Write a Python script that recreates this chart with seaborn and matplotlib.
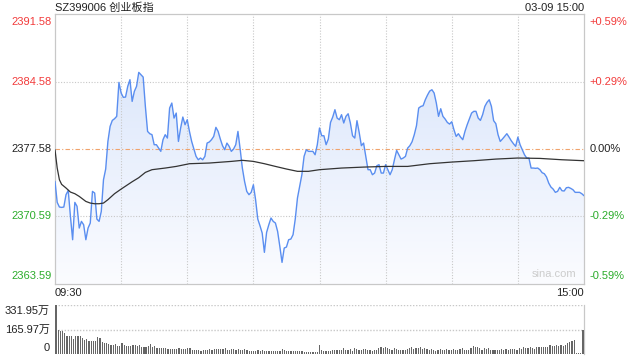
#%%
# ==========================================
# 1. IMPORTS AND DATA
# ==========================================
import numpy as np
import matplotlib
matplotlib.use("Agg")
import matplotlib.pyplot as plt
from matplotlib.patches import PathPatch
import matplotlib.transforms as mtransforms
import seaborn as sns

titulo = "SZ399006 创业板指"
data_hora = "03-09 15:00"
pre_close = 2377.58

# minute index 0..240 (09:30-11:30, 13:00-15:00)
minutos = list(range(241))

preco = [
    2374.23, 2372.05, 2371.57, 2371.53, 2371.57, 2372.85, 2373.29, 2370.60, 2368.18, 2372.05,
    2371.64, 2369.39, 2370.08, 2369.73, 2368.18, 2369.39, 2369.91, 2373.19, 2373.02, 2370.32,
    2370.08, 2371.12, 2374.40, 2375.51, 2378.37, 2379.93, 2380.55, 2380.72, 2380.97, 2384.49,
    2383.39, 2382.94, 2382.97, 2384.08, 2384.77, 2382.52, 2383.56, 2384.08, 2385.53, 2385.29,
    2385.04, 2382.00, 2379.41, 2379.17, 2379.07, 2378.03, 2378.03, 2377.68, 2377.34, 2378.55,
    2379.07, 2378.72, 2381.83, 2382.35, 2380.79, 2381.31, 2378.37, 2379.76, 2380.90, 2380.10,
    2380.62, 2379.41, 2378.37, 2377.58, 2376.82, 2376.47, 2376.65, 2376.47, 2376.82, 2378.20,
    2378.31, 2378.55, 2378.89, 2379.83, 2379.41, 2378.62, 2377.93, 2377.51, 2378.20, 2377.86,
    2377.34, 2377.58, 2378.03, 2379.41, 2377.58, 2375.61, 2374.23, 2373.19, 2372.85, 2373.09,
    2373.88, 2372.33, 2370.32, 2369.63, 2368.87, 2366.87, 2368.94, 2369.73, 2370.43, 2370.08,
    2369.91, 2369.04, 2367.49, 2365.83, 2367.32, 2367.42, 2368.18, 2368.25, 2368.70, 2370.32,
    2372.50, 2373.71, 2374.92, 2376.82, 2377.51, 2377.34, 2377.34, 2377.34, 2376.99, 2378.03,
    2379.76, 2378.96, 2378.96, 2378.03, 2378.62, 2380.34, 2380.90, 2381.66, 2380.79, 2380.62,
    2381.14, 2380.28, 2380.97, 2381.24, 2380.28, 2378.96, 2378.72, 2380.52, 2379.31, 2377.93,
    2378.20, 2376.82, 2375.44, 2375.44, 2374.92, 2375.09, 2375.85, 2375.96, 2375.09, 2375.09,
    2375.96, 2375.44, 2374.92, 2375.44, 2376.47, 2377.44, 2376.99, 2376.54, 2376.65, 2376.82,
    2377.68, 2377.93, 2378.34, 2379.07, 2380.00, 2381.83, 2382.00, 2382.07, 2382.69, 2383.18,
    2383.59, 2383.73, 2383.39, 2382.35, 2380.97, 2381.76, 2380.97, 2380.69, 2380.34, 2380.17,
    2380.41, 2379.58, 2378.89, 2379.17, 2378.82, 2378.55, 2379.41, 2380.10, 2380.69, 2381.31,
    2381.49, 2381.49, 2380.79, 2380.55, 2381.14, 2382.00, 2382.42, 2382.69, 2382.00, 2380.52,
    2380.21, 2379.07, 2378.37, 2378.62, 2378.89, 2379.17, 2378.82, 2378.44, 2378.13, 2377.86,
    2378.82, 2378.03, 2377.51, 2376.99, 2376.65, 2376.65, 2375.61, 2375.61, 2375.58, 2375.61,
    2375.44, 2375.13, 2375.02, 2374.68, 2374.05, 2373.64, 2373.43, 2373.09, 2373.19, 2373.61,
    2373.26, 2373.23, 2373.57, 2373.61, 2373.50, 2373.36, 2373.09, 2373.09, 2373.09, 2372.95,
    2372.74,
]

# average price line (read at a few minutes)
media_min = [0, 1, 2, 3, 5, 7, 9, 11, 14, 16, 18, 20, 22, 24, 27, 30, 35, 38, 41, 44, 50, 55,
             61, 70, 80, 85, 90, 95, 100, 105, 110, 115, 120, 130, 140, 150, 160, 165, 170,
             180, 190, 200, 210, 220, 230, 240]
media_preco = [2377.51, 2375.61, 2374.40, 2373.92, 2373.54, 2373.12, 2372.95, 2372.67, 2372.15,
               2371.98, 2371.91, 2371.91, 2371.98, 2372.33, 2372.95, 2373.43, 2374.19, 2374.61,
               2375.16, 2375.44, 2375.61, 2375.78, 2376.06, 2376.13, 2376.30, 2376.41, 2376.30,
               2376.06, 2375.78, 2375.51, 2375.27, 2375.27, 2375.44, 2375.61, 2375.71, 2375.78,
               2375.78, 2375.92, 2376.06, 2376.23, 2376.37, 2376.54, 2376.65, 2376.61, 2376.47,
               2376.37]

# volume (万)
volume = [
    332.0, 159.4, 157.2, 152.7, 141.4, 123.5, 123.5, 123.5, 103.3, 123.5,
    123.5, 123.5, 107.8, 92.0, 103.3, 89.8, 89.8, 85.3, 85.3, 116.7,
    110.0, 80.8, 76.3, 74.1, 69.6, 62.9, 58.4, 69.6, 56.1, 56.1,
    76.3, 62.9, 56.1, 56.1, 56.1, 62.9, 58.4, 51.6, 62.9, 49.4,
    44.9, 49.4, 56.1, 69.6, 44.9, 51.6, 38.2, 38.2, 42.7, 42.7,
    38.2, 35.9, 35.9, 35.9, 35.9, 35.9, 38.2, 33.7, 31.4, 31.4,
    38.2, 42.7, 29.2, 29.2, 29.2, 29.2, 22.5, 26.9, 29.2, 29.2,
    33.7, 29.2, 31.4, 35.9, 33.7, 31.4, 35.9, 42.7, 29.2, 29.2,
    31.4, 35.9, 29.2, 31.4, 29.2, 29.2, 33.7, 29.2, 22.5, 22.5,
    22.5, 22.5, 24.7, 22.5, 29.2, 22.5, 22.5, 18.0, 18.0, 18.0,
    18.0, 18.0, 22.5, 31.4, 24.7, 18.0, 18.0, 20.2, 18.0, 18.0,
    18.0, 18.0, 18.0, 15.7, 15.7, 15.7, 15.7, 15.7, 15.7, 15.7,
    62.9, 29.2, 22.5, 22.5, 22.5, 22.5, 29.2, 24.7, 26.9, 24.7,
    29.2, 40.4, 29.2, 29.2, 33.7, 22.5, 40.4, 33.7, 29.2, 29.2,
    35.9, 35.9, 29.2, 24.7, 22.5, 29.2, 29.2, 40.4, 47.1, 42.7,
    49.4, 40.4, 35.9, 29.2, 40.4, 33.7, 29.2, 29.2, 29.2, 29.2,
    33.7, 40.4, 47.1, 33.7, 40.4, 40.4, 47.1, 35.9, 40.4, 35.9,
    29.2, 33.7, 29.2, 22.5, 29.2, 33.7, 24.7, 29.2, 35.9, 24.7,
    29.2, 35.9, 29.2, 29.2, 35.9, 40.4, 29.2, 29.2, 29.2, 40.4,
    51.6, 44.9, 44.9, 38.2, 29.2, 40.4, 35.9, 40.4, 24.7, 29.2,
    29.2, 29.2, 29.2, 35.9, 29.2, 33.7, 29.2, 35.9, 35.9, 35.9,
    29.2, 40.4, 33.7, 44.9, 40.4, 40.4, 44.9, 40.4, 33.7, 44.9,
    47.1, 49.4, 49.4, 49.4, 47.1, 62.9, 56.1, 56.1, 62.9, 51.6,
    62.9, 56.1, 62.9, 74.1, 80.8, 85.3, 96.5, 4.5, 4.5, 4.5,
    159.4,
]

eixo_preco = [2391.58, 2384.58, 2377.58, 2370.59, 2363.59]
eixo_pct = ["+0.59%", "+0.29%", "0.00%", "-0.29%", "-0.59%"]
eixo_vol = [331.95, 165.97, 0]
eixo_vol_txt = ["331.95万", "165.97万", "0"]
rotulos_tempo = ["09:30", "15:00"]

#%%
# ==========================================
# 2. FIGURE
# ==========================================
sns.set_theme(style="white")
plt.rcParams['font.family'] = ['Liberation Sans', 'Noto Sans CJK SC', 'DejaVu Sans']

VERMELHO = "#f23b3b"
VERDE = "#2bac2b"
ESCURO = "#222222"
GRADE = "#c8c8c8"
AZUL = "#5a8ef0"

fig = plt.figure(figsize=(6.4, 3.6), dpi=100)
ax = fig.add_axes([55 / 640, 1 - 284 / 360, 529 / 640, 270 / 360])
axv = fig.add_axes([55 / 640, 1 - 354 / 360, 529 / 640, 49 / 360])

# ---- price panel ----
ymin, ymax = eixo_preco[-1], eixo_preco[0]
ax.set_xlim(0, 240)
ax.set_ylim(ymin, ymax)

# gradient fill under the price line
preenche = ax.fill_between(minutos, preco, ymin, color="none", lw=0)
grad = np.linspace(0, 1, 256).reshape(-1, 1)
cmap = matplotlib.colors.LinearSegmentedColormap.from_list("g", ["#d5e2fa", "#fbfcff"])
img = ax.imshow(grad, cmap=cmap, aspect="auto", extent=[0, 240, ymin, ymax],
                origin="upper", zorder=1)
clip = PathPatch(preenche.get_paths()[0], transform=ax.transData, fc="none", ec="none")
ax.add_patch(clip)
img.set_clip_path(clip)

# grid lines
for m in [30, 60, 90, 120, 150, 180, 210]:
    ax.axvline(m, color=GRADE, lw=0.8, ls=(0, (1, 1.5)), zorder=2)
for v in [eixo_preco[1], eixo_preco[3]]:
    ax.axhline(v, color=GRADE, lw=0.8, ls=(0, (1, 1.5)), zorder=2)
ax.axhline(pre_close, color="#f0a36c", lw=0.8, ls=(0, (4, 2, 1, 2)), zorder=2)

sns.lineplot(x=minutos, y=preco, ax=ax, color=AZUL, linewidth=1.0, zorder=4)
sns.lineplot(x=media_min, y=media_preco, ax=ax, color="#333333", linewidth=0.9, zorder=5)

ax.set_xticks([])
ax.set_yticks([])
ax.set_xlabel("")
ax.set_ylabel("")
for s in ax.spines.values():
    s.set_color(GRADE)
    s.set_linewidth(0.9)

cores = [VERMELHO, VERMELHO, ESCURO, VERDE, VERDE]
alinh = ["top", "center", "center", "center", "bottom"]
desl = [-2, 0, 0, 0, 2]
trans_esq = mtransforms.blended_transform_factory(ax.transAxes, ax.transData)
for v, pct, c, va, d in zip(eixo_preco, eixo_pct, cores, alinh, desl):
    ax.annotate(f"{v:.2f}", (0, v), xycoords=trans_esq, xytext=(-2.5, d),
                textcoords="offset points", ha="right", va=va, color=c, fontsize=8)
    ax.annotate(pct, (1, v), xycoords=trans_esq, xytext=(4, d),
                textcoords="offset points", ha="left", va=va, color=c, fontsize=8)

# time labels under the price panel
ax.annotate(rotulos_tempo[0], (0, 0), xycoords="axes fraction", xytext=(0, -3),
            textcoords="offset points", ha="left", va="top", color=ESCURO, fontsize=8)
ax.annotate(rotulos_tempo[1], (1, 0), xycoords="axes fraction", xytext=(0, -3),
            textcoords="offset points", ha="right", va="top", color=ESCURO, fontsize=8)

# header texts
fig.text(55 / 640, 1 - 8 / 360, titulo, ha="left", va="center", color=ESCURO, fontsize=8)
fig.text(584 / 640, 1 - 8 / 360, data_hora, ha="right", va="center", color=ESCURO, fontsize=8)
ax.text(0.985, 0.02, "sina.com", transform=ax.transAxes, ha="right", va="bottom",
        color="#cccccc", fontsize=8, zorder=6)

# ---- volume panel ----
sns.barplot(x=minutos, y=volume, ax=axv, color="#666666", saturation=1,
            width=0.55, errorbar=None, linewidth=0, zorder=3)
for barra in axv.patches:
    barra.set_antialiased(False)
axv.set_xlim(-0.5, 240.5)
axv.set_ylim(0, eixo_vol[0])
for v in eixo_vol[:2]:
    axv.axhline(v, color=GRADE, lw=1.0, ls=(0, (1, 1.2)), zorder=1)
axv.set_xticks([])
axv.set_yticks([])
axv.set_xlabel("")
axv.set_ylabel("")
for nome in ["left", "top", "bottom"]:
    axv.spines[nome].set_visible(False)
axv.spines["right"].set_color(GRADE)
axv.spines["right"].set_linewidth(0.9)

trans_v = mtransforms.blended_transform_factory(axv.transAxes, axv.transData)
for v, txt, va, d in zip(eixo_vol, eixo_vol_txt, ["top", "center", "bottom"], [-1, 0, 1]):
    axv.annotate(txt, (0, v), xycoords=trans_v, xytext=(-3.5, d),
                 textcoords="offset points", ha="right", va=va, color=ESCURO, fontsize=8)

plt.savefig("out.png", dpi=100)
print("ok")
